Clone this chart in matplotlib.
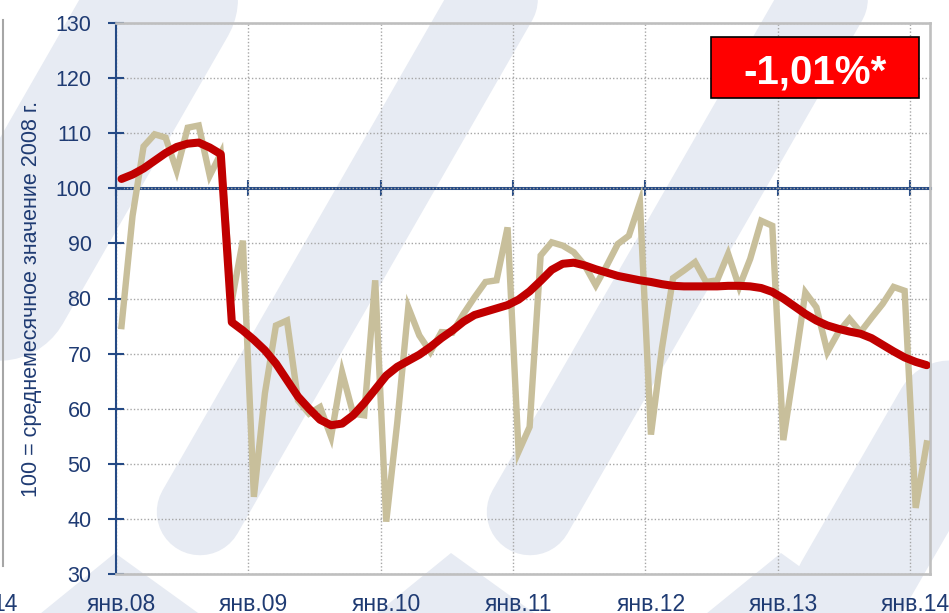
import matplotlib
matplotlib.use("Agg")
import matplotlib.pyplot as plt
from matplotlib.lines import Line2D
from matplotlib.patches import Rectangle, Polygon

# monthly index, jan 2008 .. feb 2014 (100 = average month of 2008)
monthly = [75.0, 95.0, 107.6, 109.8, 109.2, 103.2, 111.0, 111.4, 102.3, 106.3, 79.6, 90.5,
           44.0, 62.8, 75.1, 76.0, 61.5, 59.1, 60.3, 54.9, 66.6, 59.1, 58.8, 83.3,
           39.5, 57.5, 78.4, 73.3, 70.3, 73.9, 73.8, 77.2, 80.2, 83.0, 83.3, 92.9,
           52.2, 56.7, 87.8, 90.2, 89.6, 88.4, 86.0, 82.4, 86.0, 89.9, 91.4, 97.4,
           55.3, 71.0, 83.7, 85.1, 86.6, 83.0, 83.3, 88.1, 82.1, 87.2, 94.1, 93.2,
           54.3, 67.5, 81.1, 78.4, 70.3, 73.9, 76.3, 73.9, 76.5, 79.0, 82.1, 81.4,
           42.0, 53.7]
# smoothed trend
trend = [101.7, 102.5, 103.6, 105.0, 106.4, 107.5, 108.1, 108.3, 107.4, 106.2, 75.7, 74.2,
         72.5, 70.6, 68.2, 65.2, 62.2, 60.0, 58.0, 57.0, 57.3, 58.8, 61.0, 63.5,
         66.0, 67.6, 68.7, 69.8, 71.2, 72.8, 74.2, 75.8, 77.0, 77.6, 78.2, 78.8,
         79.8, 81.3, 83.2, 85.2, 86.3, 86.5, 86.0, 85.3, 84.7, 84.1, 83.7, 83.3,
         83.0, 82.6, 82.3, 82.2, 82.2, 82.2, 82.2, 82.3, 82.3, 82.2, 81.9, 81.2,
         80.0, 78.6, 77.2, 76.0, 75.1, 74.5, 74.0, 73.6, 72.8, 71.6, 70.4, 69.3,
         68.5, 67.9]
year_labels = ["янв.08", "янв.09", "янв.10", "янв.11", "янв.12", "янв.13", "янв.14"]
y_ticks = [30, 40, 50, 60, 70, 80, 90, 100, 110, 120, 130]
badge_text = "-1,01%*"
ylabel = "100 = среднемесячное значение 2008 г."

W, H = 949, 613
NAVY = "#1F3B73"
AXBLUE = "#254A85"
BEIGE = "#C8BF9B"
RED = "#C00000"
GREY = "#BFBFBF"
WM = "#E7EBF3"
plt.rcParams["font.family"] = ["Liberation Sans Narrow", "Liberation Sans", "DejaVu Sans"]

def fpx(x, y):
    return x / W, 1 - y / H

fig = plt.figure(figsize=(W / 100, H / 100), dpi=100)
fig.patch.set_facecolor("white")

# faint watermark bands in the background
for (x0, y0), (x1, y1), wpx in [((-130, 512), (250, -150), 170), ((200, 512), (540, -80), 100),
                                ((530, 512), (870, -80), 100), ((850, 590), (1150, 70), 130)]:
    a, b = fpx(x0, y0); c, d = fpx(x1, y1)
    fig.add_artist(Line2D([a, c], [b, d], transform=fig.transFigure, color=WM,
                          lw=wpx * 0.865 * 0.72, solid_capstyle="round", zorder=-5))
for px_ in [115, 451, 781]:
    pts = [fpx(px_, 553), fpx(px_ + 90, H + 5), fpx(px_ - 80, H + 5)]
    fig.add_artist(Polygon(pts, closed=True, transform=fig.transFigure, fc=WM, ec="none", zorder=-5))

ax = fig.add_axes([116 / W, 1 - 574 / H, (930 - 116) / W, (574 - 23) / H])
ax.set_facecolor("none")

months = [m + 0.5 for m in range(len(monthly))]
ax.plot(months, monthly, color=BEIGE, lw=4.6, solid_joinstyle="miter", zorder=3)
ax.plot(months, trend, color=RED, lw=5.8, solid_capstyle="round", zorder=4)

ax.set_xlim(0, 73.8)
ax.set_ylim(30, 130)
year_pos = [12 * i for i in range(len(year_labels))]
ax.set_xticks(year_pos, labels=[""] * len(year_pos))
ax.set_xticks([p + 0.5 for p in year_pos], labels=year_labels, minor=True)
ax.tick_params(axis="x", which="both", length=0)
ax.tick_params(axis="x", which="minor", pad=14, labelsize=16.5, labelcolor=NAVY)
ax.set_yticks(y_ticks)
ax.tick_params(axis="y", direction="inout", length=12.2, width=1.5, color=AXBLUE,
               labelsize=15.5, labelcolor=NAVY, pad=11.5)
ax.grid(True, which="major", color="#A6A6A6", ls=(0, (1, 1.5)), lw=1.0)
ax.set_axisbelow(True)

for s in ["top", "right", "bottom"]:
    ax.spines[s].set_color(GREY)
    ax.spines[s].set_linewidth(1.9)
ax.spines["left"].set_color(AXBLUE)
ax.spines["left"].set_linewidth(1.5)

# horizontal axis crossing at 100
sec = ax.secondary_xaxis((100 - 30) / (130 - 30))
sec.set_xticks(year_pos)
sec.tick_params(direction="inout", length=11.5, width=1.5, color=AXBLUE,
                labeltop=False, labelbottom=False)
for s in sec.spines.values():
    s.set_color(AXBLUE)
    s.set_linewidth(2.2)

fig.text(31.5 / W, 1 - 298.5 / H, ylabel, rotation=90, ha="center", va="center",
         fontsize=15.5, color=NAVY, family=["Liberation Sans", "DejaVu Sans"])

# red badge
bx0, by0 = fpx(710.7, 98.3)
fig.add_artist(Rectangle((bx0, by0), 208.6 / W, 61.6 / H, transform=fig.transFigure,
                         fc="#FF0000", ec="black", lw=1.2, zorder=6))
tx, ty = fpx(814.7, 84)
fig.text(tx, ty, badge_text, ha="center", va="baseline", fontsize=29, fontweight="bold",
         color="white", zorder=7)

# edge of neighbouring chart cropped in on the left
gx0, gy0 = fpx(2.5, 20); gx1, gy1 = fpx(2.5, 566)
fig.add_artist(Line2D([gx0, gx1], [gy0, gy1], transform=fig.transFigure, color="#A6A6A6", lw=1.5))
lx, ly = fpx(18, 611)
fig.text(lx, ly, "14", ha="right", va="baseline", fontsize=16.5, color=NAVY)

fig.savefig("out.png", dpi=100)
